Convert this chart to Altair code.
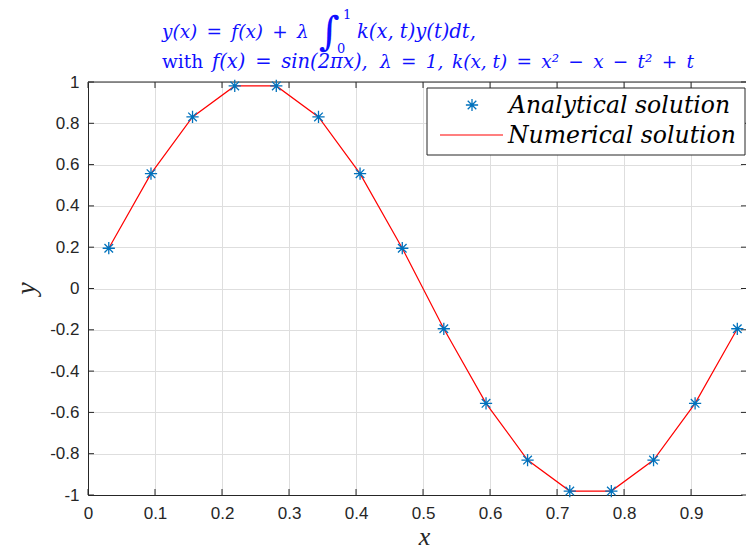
import altair as alt
import pandas as pd

# ---- data ----
X = [0.031, 0.094, 0.156, 0.219, 0.281, 0.344, 0.406, 0.469,
     0.531, 0.594, 0.656, 0.719, 0.781, 0.844, 0.906, 0.969]
Y_ANALYTICAL = [0.195, 0.556, 0.831, 0.981, 0.981, 0.831, 0.556, 0.195,
                -0.195, -0.556, -0.831, -0.981, -0.981, -0.831, -0.556, -0.195]
Y_NUMERICAL = [0.195, 0.556, 0.831, 0.981, 0.981, 0.831, 0.556, 0.195,
               -0.195, -0.556, -0.831, -0.981, -0.981, -0.831, -0.556, -0.195]
X_TICKS = [0, 0.1, 0.2, 0.3, 0.4, 0.5, 0.6, 0.7, 0.8, 0.9]
Y_TICKS = [-1, -0.8, -0.6, -0.4, -0.2, 0, 0.2, 0.4, 0.6, 0.8, 1]
LEGEND_LABELS = ["Analytical solution", "Numerical solution"]
EN = "\u2002"
TITLE_1A = f"y(x){EN}={EN}f(x){EN}+{EN}λ"
TITLE_1B = "k(x, t)y(t)dt,"
TITLE_2A = "with"
TITLE_2B = f"f(x){EN}={EN}sin(2πx),"
TITLE_2C = f"λ{EN}={EN}1,"
TITLE_2D = f"k(x, t){EN}={EN}x²{EN}−{EN}x{EN}−{EN}t²{EN}+{EN}t"

W, H = 654, 413
X_MAX = 0.976
BLUE = "#0072bd"
RED = "#ff0000"
AX = "#262626"
TBLUE = "#1010ff"
ASTERISK = "M-1,0L1,0M0,-1L0,1M-0.7,-0.7L0.7,0.7M-0.7,0.7L0.7,-0.7"

df = pd.DataFrame({"x": X, "ana": Y_ANALYTICAL, "num": Y_NUMERICAL})
xt = pd.DataFrame({"x": X_TICKS})
yt = pd.DataFrame({"num": Y_TICKS})
one = pd.DataFrame({"a": [0]})

xs = alt.Scale(domain=[0, X_MAX], nice=False, zero=False)
ys = alt.Scale(domain=[-1, 1], nice=False, zero=False)

xaxis = alt.Axis(
    values=X_TICKS, title="x", ticks=False, tickSize=0, labelPadding=10,
    labelFont="Liberation Sans", labelFontSize=17, labelColor=AX,
    labelFlush=False, domainColor=AX, domainWidth=1,
    grid=True, gridColor="#dedede", gridWidth=1,
    titleFont="Liberation Serif", titleFontStyle="italic",
    titleFontWeight="normal", titleFontSize=26, titleColor=AX,
    titleX=336, titleY=41, titleBaseline="middle", titleAnchor="middle",
    format=".1~f")
yaxis = alt.Axis(
    values=Y_TICKS, title="y", ticks=False, tickSize=0, labelPadding=9,
    labelFont="Liberation Sans", labelFontSize=17, labelColor=AX,
    labelFlush=False, domainColor=AX, domainWidth=1,
    grid=True, gridColor="#dedede", gridWidth=1,
    labelExpr="datum.value == 0 ? '0' : (datum.value < 0 ? '-' + format(-datum.value, '.1~f') : format(datum.value, '.1~f'))",
    titleFont="Liberation Serif", titleFontStyle="italic",
    titleFontWeight="normal", titleFontSize=28, titleColor=AX,
    titleX=-62, titleY=206, titleBaseline="middle", titleAnchor="middle")

line = alt.Chart(df).mark_line(color=RED, strokeWidth=1.2).encode(
    x=alt.X("x:Q", scale=xs, axis=xaxis),
    y=alt.Y("num:Q", scale=ys, axis=yaxis),
)
points = alt.Chart(df).mark_point(shape=ASTERISK, size=150, filled=False,
                                  color=BLUE, strokeWidth=1.3, opacity=1).encode(
    x=alt.X("x:Q", scale=xs, axis=xaxis),
    y=alt.Y("ana:Q", scale=ys, axis=yaxis),
)

bottom_ticks = alt.Chart(xt).mark_rule(color=AX).encode(
    x=alt.X("x:Q", scale=xs, axis=xaxis), y=alt.value(H), y2=alt.value(H - 6))
top_ticks = alt.Chart(xt).mark_rule(color=AX).encode(
    x=alt.X("x:Q", scale=xs, axis=xaxis), y=alt.value(0), y2=alt.value(6))
left_ticks = alt.Chart(yt).mark_rule(color=AX).encode(
    y=alt.Y("num:Q", scale=ys, axis=yaxis), x=alt.value(0), x2=alt.value(6))
right_ticks = alt.Chart(yt).mark_rule(color=AX).encode(
    y=alt.Y("num:Q", scale=ys, axis=yaxis), x=alt.value(W - 1), x2=alt.value(W + 4))
top_line = alt.Chart(one).mark_rule(color=AX).encode(
    x=alt.value(0), x2=alt.value(W + 4), y=alt.value(0))

# legend
leg_box = alt.Chart(one).mark_rect(fill="white", stroke=AX, strokeWidth=1).encode(
    x=alt.value(339), x2=alt.value(657), y=alt.value(6), y2=alt.value(73))
leg_sym = alt.Chart(one).mark_point(shape=ASTERISK, size=150, filled=False,
                                    color=BLUE, strokeWidth=1.3, opacity=1).encode(
    x=alt.value(384), y=alt.value(23))
leg_line = alt.Chart(one).mark_rule(color=RED, strokeWidth=1.2).encode(
    x=alt.value(352), x2=alt.value(415), y=alt.value(53))
leg_t1 = alt.Chart(one).mark_text(align="left", baseline="alphabetic", font="DejaVu Serif",
                                  fontStyle="italic", fontSize=23.5, color="black").encode(
    x=alt.value(421), y=alt.value(31), text=alt.value(LEGEND_LABELS[0]))
leg_t2 = alt.Chart(one).mark_text(align="left", baseline="alphabetic", font="DejaVu Serif",
                                  fontStyle="italic", fontSize=23.5, color="black").encode(
    x=alt.value(420), y=alt.value(61), text=alt.value(LEGEND_LABELS[1]))

# title
def ttext(txt, x, y, size=18.5, style="italic", font="DejaVu Serif", baseline="alphabetic"):
    return alt.Chart(one).mark_text(align="left", baseline=baseline, font=font,
                                    fontStyle=style, fontSize=size, color=TBLUE).encode(
        x=alt.value(x), y=alt.value(y), text=alt.value(txt))

t1a = ttext(TITLE_1A, 74, -44)
tint = ttext("∫", 231, -49, size=40, style="normal", baseline="middle")
tsup = ttext("1", 255, -63, size=13, style="normal")
tsub = ttext("0", 249, -29, size=13, style="normal")
t1b = ttext(TITLE_1B, 269, -44, size=19.5)
t2a = ttext(TITLE_2A, 74, -14, style="normal")
t2b = ttext(TITLE_2B, 124, -14, size=19.5)
t2c = ttext(TITLE_2C, 292, -14)
t2d = ttext(TITLE_2D, 364, -14)

chart = alt.layer(
    line, bottom_ticks, top_ticks, left_ticks, right_ticks, top_line,
    points, leg_box, leg_sym, leg_line, leg_t1, leg_t2,
    t1a, tint, tsup, tsub, t1b, t2a, t2b, t2c, t2d,
).properties(
    width=W, height=H,
    autosize=alt.AutoSizeParams(type="none"),
    padding={"left": 80, "top": 74, "right": 4, "bottom": 54},
    background="white",
).configure_view(stroke=None)

chart.save("out.html", embed_options={"renderer": "svg", "actions": False})
